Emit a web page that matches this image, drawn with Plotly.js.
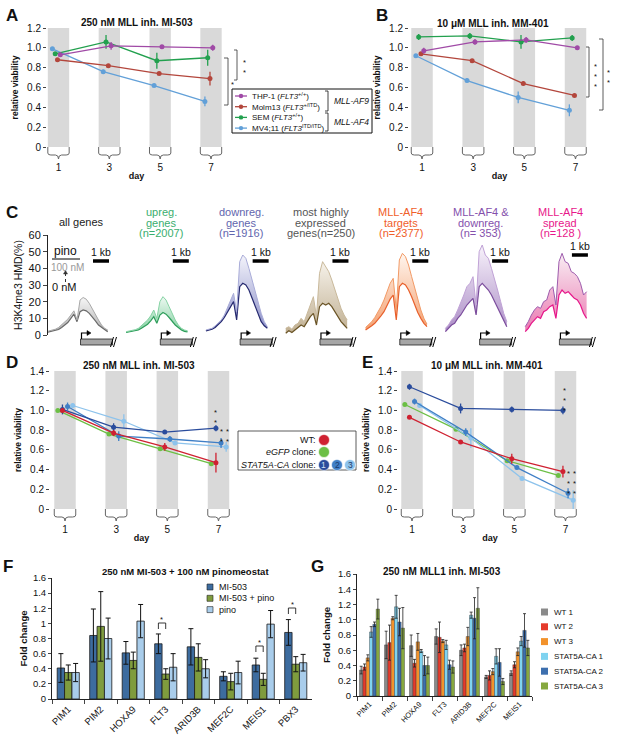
<!DOCTYPE html>
<html>
<head>
<meta charset="utf-8">
<script src="https://cdn.plot.ly/plotly-3.0.1.min.js"></script>
<style>
  body { margin: 0; background: #fff; }
  #fig { width: 617px; height: 752px; }
</style>
</head>
<body>
<div id="fig"></div>
<script>
// ---------- data ----------
let days = [1, 3, 5, 7];
let viab12 = [0, 0.2, 0.4, 0.6, 0.8, 1.0, 1.2];
let viab12Text = ['0', '0.2', '0.4', '0.6', '0.8', '1.0', '1.2'];
let viab14 = [0, 0.2, 0.4, 0.6, 0.8, 1.0, 1.2, 1.4];
let viab14Text = ['0', '0.2', '0.4', '0.6', '0.8', '1.0', '1.2', '1.4'];

// A + B: cell lines
let cellLines = ['THP-1', 'Molm13', 'SEM', 'MV4;11'];
let cellLegend = ['THP-1 (<i>FLT3</i><sup>+/+</sup>)', 'Molm13 (<i>FLT3</i><sup>+/ITD</sup>)',
                  'SEM (<i>FLT3</i><sup>+/+</sup>)', 'MV4;11 (<i>FLT3</i><sup>ITD/ITD</sup>)'];
let aMean = [[0.93, 1.02, 1.01, 1.00], [0.88, 0.82, 0.74, 0.69], [0.94, 1.06, 0.87, 0.90], [0.99, 0.76, 0.62, 0.46]];
let aErr  = [[0.02, 0.04, 0.01, 0.03], [0.01, 0.01, 0.01, 0.07], [0.01, 0.07, 0.08, 0.08], [0.01, 0.02, 0.01, 0.05]];
let bMean = [[0.97, 1.06, 1.08, 1.00], [0.94, 0.87, 0.64, 0.52], [1.11, 1.12, 1.06, 1.10], [0.92, 0.67, 0.50, 0.37]];
let bErr  = [[0.03, 0.03, 0.03, 0.01], [0.01, 0.01, 0.02, 0.01], [0.03, 0.03, 0.07, 0.03], [0.01, 0.02, 0.06, 0.06]];

// C: H3K4me3 profiles around the TSS
let kb = [-2, -1.8, -1.6, -1.4, -1.2, -1, -0.8, -0.6, -0.4, -0.2, 0, 0.2, 0.4, 0.6, 0.8, 1, 1.2, 1.4, 1.6, 1.8, 2];
let geneSets = ['all genes', 'upreg. genes', 'downreg. genes', 'most highly expressed genes',
                'MLL-AF4 targets', 'MLL-AF4 & downreg.', 'MLL-AF4 spread'];
let geneSetTitle = [['all genes'], ['upreg.', 'genes', '(n=2007)'], ['downreg.', 'genes', '(n=1916)'],
                    ['most highly', 'expressed', 'genes(n=250)'], ['MLL-AF4', 'targets', '(n=2377)'],
                    ['MLL-AF4 &amp;', 'downreg.', '(n= 353)'], ['MLL-AF4', 'spread', '(n=128 )']];
let hmdPino = [
  [2, 2.5, 3, 3.5, 4.5, 6, 7.5, 9.5, 12, 14.5, 9, 21, 22.5, 21.5, 19, 15.5, 12, 9, 6, 4, 3],
  [2, 2.3, 2.7, 3.2, 4, 5.5, 7, 9, 11.5, 15, 10, 20, 23, 21, 17, 12.5, 9, 6, 4, 3, 2.5],
  [3, 3.5, 4, 5.5, 7, 9, 12, 16, 21, 25, 14, 44, 48, 46, 40, 33, 26, 19, 13, 8, 5],
  [4, 5, 3.5, 6, 7, 10, 8, 13, 19, 23, 11, 37, 44, 41, 38, 33, 27, 21, 16, 12, 9],
  [4.5, 6, 8, 10.5, 13.5, 17, 21, 26, 31, 34, 15, 45, 49, 47, 42, 35, 28, 21, 15, 10, 6.5],
  [4, 6, 9, 11, 15, 19, 24, 29, 31, 35, 18, 50, 54, 48, 46, 40, 34, 27, 20, 13, 8],
  [5, 8, 12, 15, 17, 16, 20, 21, 27, 29, 18, 44, 49, 44, 43, 38, 37, 35, 31, 24, 26]
];
let hmdCtrl = [
  [1.5, 2, 2.2, 2.6, 3.3, 4.5, 6, 7.5, 10, 12.5, 8, 14, 15, 14.5, 13, 11, 8.5, 6, 4.5, 3, 2],
  [1.5, 1.8, 2, 2.5, 3, 4, 5, 6.5, 8.5, 11, 7, 12, 13.5, 12.5, 10.5, 8, 6, 4.5, 3, 2.2, 1.8],
  [2.5, 3, 3.5, 4.5, 6, 8, 10.5, 13.5, 17, 20, 9, 29, 31, 30, 27, 22, 17, 12, 8, 5.5, 4],
  [1, 2.5, 1.5, 3, 4, 6, 5, 8, 11, 13, 6, 17, 19, 18, 19, 17, 14, 11, 8, 6, 4],
  [3, 4, 5.5, 7, 9, 11.5, 14, 18, 21.5, 24, 9, 29, 31, 30, 27, 23, 18, 13.5, 10, 7, 5],
  [2, 4, 6, 7, 10, 12, 15, 18, 20, 22, 12, 29, 31, 29, 27, 24, 20, 16, 12, 8, 5],
  [2, 4, 7, 9, 11, 10, 14, 15, 17, 18, 10, 24, 27, 25, 26, 24, 22, 21, 18, 13, 10]
];

// D + E: clones
let clones = ['WT', 'eGFP clone', 'STAT5A-CA clone 1', 'STAT5A-CA clone 2', 'STAT5A-CA clone 3'];
let dMean = [[1.00, 0.77, 0.63, 0.47], [1.00, 0.76, 0.61, 0.46], [1.01, 0.83, 0.78, 0.82], [1.04, 0.74, 0.71, 0.67], [1.05, 0.89, 0.67, 0.63]];
let dErr  = [[0.02, 0.03, 0.04, 0.10], [0.01, 0.01, 0.01, 0.01], [0.05, 0.04, 0.02, 0.03], [0.04, 0.05, 0.03, 0.05], [0.02, 0.07, 0.02, 0.05]];
let eMean = [[0.93, 0.68, 0.51, 0.38], [1.06, 0.81, 0.49, 0.34], [1.24, 1.02, 1.01, 1.00], [1.09, 0.78, 0.42, 0.16], [1.05, 0.72, 0.31, 0.09]];
let eErr  = [[0.01, 0.01, 0.05, 0.06], [0.01, 0.01, 0.01, 0.01], [0.03, 0.05, 0.03, 0.04], [0.03, 0.04, 0.02, 0.05], [0.02, 0.10, 0.02, 0.10]];

// F: fold change, MI-503 +/- pinometostat
let fGenes = ['PIM1', 'PIM2', 'HOXA9', 'FLT3', 'ARID3B', 'MEF2C', 'MEIS1', 'PBX3'];
let fSeries = ['MI-503', 'MI-503 + pino', 'pino'];
let fMI = [0.41, 0.84, 0.61, 0.73, 0.69, 0.30, 0.45, 0.88];
let fMIerr = [0.19, 0.35, 0.15, 0.13, 0.24, 0.06, 0.09, 0.17];
let fCombo = [0.35, 0.96, 0.51, 0.33, 0.55, 0.23, 0.26, 0.46];
let fComboErr = [0.10, 0.46, 0.11, 0.07, 0.18, 0.11, 0.08, 0.10];
let fPino = [0.35, 0.80, 1.03, 0.42, 0.40, 0.35, 0.99, 0.48];
let fPinoErr = [0.12, 0.27, 0.22, 0.18, 0.12, 0.15, 0.18, 0.11];

// G: fold change per clone, MI-503
let gGenes = ['PIM1', 'PIM2', 'HOXA9', 'FLT3', 'ARID3B', 'MEF2C', 'MEIS1'];
let gSeries = ['WT 1', 'WT 2', 'WT 3', 'STAT5A-CA 1', 'STAT5A-CA 2', 'STAT5A-CA 3'];
let gMean = [
  [0.34, 0.67, 0.66, 0.78, 0.60, 0.25, 0.30],
  [0.38, 0.70, 0.43, 0.77, 0.63, 0.27, 0.41],
  [0.50, 1.02, 0.71, 0.72, 0.78, 0.32, 0.58],
  [0.84, 1.17, 0.59, 0.67, 1.06, 0.52, 0.72],
  [0.94, 0.97, 0.40, 0.41, 1.02, 0.44, 0.86],
  [1.14, 0.89, 0.40, 0.38, 1.15, 0.19, 0.63]
];
let gErr = [
  [0.05, 0.18, 0.14, 0.10, 0.07, 0.02, 0.03],
  [0.04, 0.23, 0.05, 0.20, 0.05, 0.06, 0.04],
  [0.04, 0.02, 0.11, 0.02, 0.12, 0.04, 0.05],
  [0.07, 0.15, 0.02, 0.06, 0.04, 0.10, 0.06],
  [0.03, 0.18, 0.13, 0.06, 0.27, 0.18, 0.22],
  [0.13, 0.27, 0.11, 0.08, 0.27, 0.04, 0.10]
];

// ---------- styling ----------
const W = 617, H = 752;
const px = v => v / W;          // pixel -> paper x
const py = v => 1 - v / H;      // pixel -> paper y
const FONT = 'Liberation Sans, Arial, sans-serif';
const BAND = 0.42;              // half width of grey day band

const cellColors = ['#a04aa6', '#b3463c', '#22a04e', '#62a0d8'];
const cellOffset = [0.07, -0.04, -0.13, -0.24];
const cloneColors = ['#cf2131', '#6cbf45', '#2a4c9c', '#3f7fc6', '#8dc3ec'];
const cloneOffset = [-0.1, -0.28, -0.1, 0.1, 0.3];
const cDark = ['#6a6a6a', '#2e9e5b', '#262a70', '#6a5426', '#e8602c', '#7b4c9c', '#e6178a'];
const cLight = ['#a8a8a8', '#86d3a4', '#a9acd8', '#c9b99b', '#f29a66', '#c0a2d6', '#9d5cad'];
const cFillLo = ['#b0b0b0', '#7fcf9e', '#8a8ec8', '#bfae90', '#f4a070', '#ab8cc6', '#ea78b0'];
const cFillHi = ['#f6f6f6', '#eef9f2', '#f4f4fb', '#f6f2ea', '#fff6ef', '#f8f3fb', '#f9eef4'];
const cTitle = ['#222', '#3aae6e', '#6266ae', '#555', '#f0602a', '#8450ac', '#e8178a'];
const fColors = ['#3d6c9f', '#7f9c3e', '#a9cdeb'];
const gColors = ['#8a8a8a', '#e53b2c', '#f2922b', '#7fd3f0', '#3d6fae', '#86a83f'];

const K = 15.35;                 // px per kb in panel C
const GAP = 5.2;                 // kb between profile centres
const tssPx = i => 77 + i * GAP * K;

const traces = [];
const shapes = [];
const ann = [];

function label(t, x, y, size, o) {
  o = o || {};
  ann.push({xref: 'paper', yref: 'paper', x: px(x), y: py(y), text: t, showarrow: false,
    xanchor: o.xanchor || 'center', yanchor: o.yanchor || 'middle',
    font: {family: FONT, size: size, color: o.color || '#111'}});
}
// a column of n significance stars, first one near y
function stars(x, y, n) {
  label(Array(n).fill('*').join('<br>'), x, y - 2, 7.5, {yanchor: 'top'});
}
function pline(path, color, width) {
  shapes.push({type: 'path', xref: 'paper', yref: 'paper', path: path, line: {color: color || '#222', width: width || 1}});
}
const P = (x, y) => px(x) + ',' + py(y);

// ---------- viability panels ----------
function viabTraces(means, errs, colors, offsets, names, xa, ya, order) {
  order.forEach(i => {
    traces.push({type: 'scatter', mode: 'lines+markers', name: names[i], xaxis: xa, yaxis: ya,
      x: days.map(d => d + offsets[i]), y: means[i],
      line: {color: colors[i], width: 1.3}, marker: {color: colors[i], size: 5},
      error_y: {type: 'data', array: errs[i], color: colors[i], thickness: 1.3, width: 0}});
  });
}
viabTraces(aMean, aErr, cellColors, cellOffset, cellLines, 'x', 'y', [3, 2, 1, 0]);
viabTraces(bMean, bErr, cellColors, cellOffset, cellLines, 'x2', 'y2', [3, 2, 1, 0]);
viabTraces(dMean, dErr, cloneColors, cloneOffset, clones, 'x4', 'y4', [1, 4, 3, 2, 0]);
viabTraces(eMean, eErr, cloneColors, cloneOffset, clones, 'x5', 'y5', [1, 4, 3, 2, 0]);

[['x', 'y', 1.2, 147], ['x2', 'y2', 1.2, 147], ['x4', 'y4', 1.4, 509], ['x5', 'y5', 1.4, 509]].forEach(([xa, ya, top, b]) => {
  days.forEach(d => {
    const l = d - BAND, r = d + BAND, e = 0.12;
    shapes.push({type: 'rect', xref: xa, yref: ya, x0: l, x1: r, y0: 0, y1: top,
      fillcolor: '#d9d9d9', line: {width: 0}, layer: 'below'});
    shapes.push({type: 'path', xref: xa, yref: 'paper', line: {color: '#666', width: 1},
      path: `M${l},${py(b)} L${l},${py(b + 6)} Q${l},${py(b + 8)} ${l + e},${py(b + 8)} L${d - e},${py(b + 8)} ` +
            `Q${d},${py(b + 8)} ${d},${py(b + 12)} Q${d},${py(b + 8)} ${d + e},${py(b + 8)} ` +
            `L${r - e},${py(b + 8)} Q${r},${py(b + 8)} ${r},${py(b + 6)} L${r},${py(b)}`});
  });
});

// ---------- C profiles ----------
geneSets.forEach((name, i) => {
  const xs = kb.map(k => k + i * GAP);
  traces.push({type: 'scatter', mode: 'lines', name: name + ' 0 nM', x: xs, y: hmdCtrl[i],
    xaxis: 'x3', yaxis: 'y3', line: {color: cDark[i], width: 1.2}});
  traces.push({type: 'scatter', mode: 'lines', name: name + ' 100 nM', x: xs, y: hmdPino[i],
    xaxis: 'x3', yaxis: 'y3', line: {color: cLight[i], width: 1}, fill: 'tonexty',
    fillgradient: {type: 'vertical', colorscale: [[0, cFillLo[i]], [1, cFillHi[i]]]}});

  const a = tssPx(i) + 4.5;
  const lines = geneSetTitle[i];
  lines.forEach((t, k) => label(t, a, lines.length === 1 ? 222 : 212 + k * 10.7, 11, {color: cTitle[i]}));
  // scale bar
  const sb = i === 6 ? 255 : 261;
  pline(`M${P(tssPx(i) + 16, sb)} L${P(tssPx(i) + 32, sb)}`, '#000', 3.5);
  label('1 kb', tssPx(i) + 24, sb - 9, 10.5);
  // gene model
  shapes.push({type: 'rect', xref: 'paper', yref: 'paper', x0: px(a - 1), x1: px(a + 31), y0: py(345), y1: py(339),
    fillcolor: '#a6a6a6', line: {color: '#222', width: 0.8}});
  pline(`M${P(a, 339)} L${P(a, 333)} L${P(a + 6, 333)}`, '#000', 1.2);
  shapes.push({type: 'path', xref: 'paper', yref: 'paper', fillcolor: '#000', line: {color: '#000', width: 0.5},
    path: `M${P(a + 5.5, 330.5)} L${P(a + 9.5, 333)} L${P(a + 5.5, 335.5)} Z`});
  pline(`M${P(a + 29, 347)} L${P(a + 32, 337)} M${P(a + 32, 347)} L${P(a + 35, 337)}`, '#000', 1);
});

// pino key in C
label('pino', 65, 251, 12);
pline(`M${P(52, 259)} L${P(80, 259)}`, '#000', 1);
label('100 nM', 67, 267, 10, {color: '#999'});
pline(`M${P(65.5, 282)} L${P(65.5, 274)}`, '#333', 1);
shapes[shapes.length - 1].line.dash = 'dot';
shapes.push({type: 'path', xref: 'paper', yref: 'paper', fillcolor: '#333', line: {color: '#333', width: 0.5},
  path: `M${P(63.5, 274)} L${P(65.5, 270.5)} L${P(67.5, 274)} Z`});
label('0 nM', 64, 287, 11);

// ---------- F + G bars ----------
[[fMI, fMIerr], [fCombo, fComboErr], [fPino, fPinoErr]].forEach(([v, e], k) => {
  traces.push({type: 'bar', name: fSeries[k], x: fGenes, y: v, xaxis: 'x6', yaxis: 'y6',
    width: 0.2267, offset: -0.34 + k * 0.2267,
    marker: {color: fColors[k], line: {color: '#1a1a1a', width: 0.8}},
    error_y: {type: 'data', array: e, color: '#111', thickness: 1, width: 2.5}});
});
gMean.forEach((v, k) => {
  traces.push({type: 'bar', name: gSeries[k], x: gGenes, y: v, xaxis: 'x7', yaxis: 'y7',
    width: 0.1333, offset: -0.4 + k * 0.1333,
    marker: {color: gColors[k], line: {color: '#333', width: 0.4}},
    error_y: {type: 'data', array: gErr[k], color: '#222', thickness: 0.8, width: 1.5}});
});

// ---------- legends, titles, significance ----------
// A legend
shapes.push({type: 'rect', xref: 'paper', yref: 'paper', x0: px(232), x1: px(372), y0: py(133), y1: py(89),
  line: {color: '#111', width: 1}, fillcolor: 'rgba(255,255,255,0)'});
cellLegend.forEach((t, i) => {
  const y = 96 + i * 10.7;
  pline(`M${P(235, y)} L${P(247, y)}`, cellColors[i], 1.3);
  shapes.push({type: 'circle', xref: 'paper', yref: 'paper', x0: px(238.8), x1: px(243.2), y0: py(y + 2.2), y1: py(y - 2.2),
    fillcolor: cellColors[i], line: {width: 0}});
  label(t, 250, y, 8, {xanchor: 'left'});
});
pline(`M${P(325, 91)} L${P(328, 91)} L${P(328, 111)} L${P(325, 111)} M${P(325, 113)} L${P(328, 113)} L${P(328, 131)} L${P(325, 131)}`, '#111', 0.8);
label('<i>MLL-AF9</i>', 332, 101, 8.5, {xanchor: 'left'});
label('<i>MLL-AF4</i>', 332, 122, 8.5, {xanchor: 'left'});

// D/E legend
shapes.push({type: 'rect', xref: 'paper', yref: 'paper', x0: px(238), x1: px(356), y0: py(470), y1: py(431),
  line: {color: '#333', width: 0.8}, fillcolor: 'rgba(255,255,255,0)'});
label('WT:', 318, 440, 9, {xanchor: 'right'});
label('<i>eGFP</i> clone:', 318, 452, 9, {xanchor: 'right'});
label('<i>STAT5A-CA</i> clone:', 318, 465, 9, {xanchor: 'right'});
[[324, 440, 0], [324, 452, 1], [324, 465, 2], [337, 465, 3], [350, 465, 4]].forEach(([x, y, c]) => {
  shapes.push({type: 'circle', xref: 'paper', yref: 'paper', x0: px(x - 5.5), x1: px(x + 5.5), y0: py(y + 5.5), y1: py(y - 5.5),
    fillcolor: cloneColors[c], line: {color: '#fff', width: 0.6}});
  if (c >= 2) label(String(c - 1), x, y, 8.5, {color: c === 2 ? '#cfe0f5' : '#1b3a6a'});
});

// F legend
fSeries.forEach((t, k) => {
  const y = 587 + k * 11.3;
  shapes.push({type: 'rect', xref: 'paper', yref: 'paper', x0: px(207), x1: px(213), y0: py(y + 3), y1: py(y - 3),
    fillcolor: fColors[k], line: {color: '#222', width: 0.6}});
  label(t, 217, y, 9, {xanchor: 'left'});
});
// G legend
gSeries.forEach((t, k) => {
  const y = 612 + k * 14.8;
  shapes.push({type: 'rect', xref: 'paper', yref: 'paper', x0: px(541), x1: px(548), y0: py(y + 3.5), y1: py(y - 3.5),
    fillcolor: gColors[k], line: {width: 0}});
  label(t, 552, y, 8, {xanchor: 'left'});
});

// panel letters and titles
[['A', 12, 15], ['B', 382, 15], ['C', 12, 212], ['D', 12, 362], ['E', 367, 362], ['F', 8, 566], ['G', 318, 566]]
  .forEach(([t, x, y]) => label('<b>' + t + '</b>', x, y, 17));
label('<b>250 nM MLL inh. MI-503</b>', 137, 22, 10);
label('<b>10 μM MLL inh. MM-401</b>', 493, 23, 10);
label('<b>250 nM MLL inh. MI-503</b>', 139, 365, 10);
label('<b>10 μM MLL inh. MM-401</b>', 487, 365, 10);
label('<b>250 nM MI-503 + 100 nM pinomeostat</b>', 185, 571, 9.5);
label('<b>250 nM MLL1 inh. MI-503</b>', 442, 571, 10);

// significance
pline(`M${P(234, 50)} L${P(237, 50)} L${P(237, 80)} L${P(234, 80)}`, '#333', 0.8); stars(244, 58, 2);
pline(`M${P(224, 58)} L${P(228, 58)} L${P(228, 105)} L${P(224, 105)}`, '#333', 0.8); stars(232, 80, 1);
pline(`M${P(586, 47)} L${P(589, 47)} L${P(589, 97)} L${P(586, 97)}`, '#333', 0.8); stars(595, 62, 3);
pline(`M${P(599, 39)} L${P(603, 39)} L${P(603, 110)} L${P(599, 110)}`, '#333', 0.8); stars(608, 68, 2);
stars(215, 408, 2); stars(221, 427, 2); stars(227, 427, 2);
stars(564, 386, 3); stars(568, 469, 3); stars(574, 469, 3);
pline(`M${P(158.4, 629)} L${P(158.4, 623)} L${P(165.7, 623)} L${P(165.7, 629)}`, '#222', 0.9); stars(162, 615, 1);
pline(`M${P(255.9, 652)} L${P(255.9, 646)} L${P(263.2, 646)} L${P(263.2, 652)}`, '#222', 0.9); stars(259.5, 638, 1);
pline(`M${P(288.4, 614)} L${P(288.4, 608)} L${P(295.7, 608)} L${P(295.7, 614)}`, '#222', 0.9); stars(292, 600, 1);

// ---------- axes ----------
function dayAxis(l, r, d1, d7, anchor) {
  const k = (d7 - d1) / 6;
  return {domain: [px(l), px(r)], range: [1 + (l - d1) / k, 1 + (r - d1) / k], anchor: anchor,
    tickvals: days, ticks: '', showgrid: false, zeroline: false, showline: false,
    ticklabelstandoff: 13, tickfont: {size: 10},
    title: {text: '<b>day</b>', font: {size: 9}, standoff: 0}};
}
function viabAxis(b, t, top, tv, tt, anchor) {
  return {domain: [py(b), py(t)], range: [0, top], anchor: anchor, tickvals: tv, ticktext: tt,
    ticks: 'outside', ticklen: 3, tickcolor: '#444', showgrid: false, zeroline: false, showline: false,
    tickfont: {size: 10}, title: {text: '<b>relative viability</b>', font: {size: 8.5}, standoff: 7}};
}
function foldAxis(b, t, anchor, tv, tt, standoff) {
  const ax = {domain: [py(b), py(t)], range: [0, 1.6], anchor: anchor, dtick: 0.2,
    ticks: 'outside', ticklen: 3, showline: true, linecolor: '#222', linewidth: 1,
    showgrid: false, zeroline: false, tickfont: {size: 9.5},
    title: {text: '<b>Fold change</b>', font: {size: 9.5}, standoff: standoff}};
  if (tv) { ax.tickvals = tv; ax.ticktext = tt; }
  return ax;
}
function geneAxis(l, r, anchor, size) {
  return {domain: [px(l), px(r)], anchor: anchor, type: 'category', tickson: 'boundaries',
    ticks: 'outside', ticklen: 4, showline: true, linecolor: '#222', linewidth: 1,
    tickangle: -45, tickfont: {size: size}, showgrid: false};
}

const layout = {
  width: W, height: H,
  margin: {l: 0, r: 0, t: 0, b: 0},
  paper_bgcolor: '#fff', plot_bgcolor: 'rgba(0,0,0,0)',
  font: {family: FONT, color: '#111'},
  showlegend: false, hovermode: false, barmode: 'overlay',
  xaxis: dayAxis(47, 226, 58.5, 211, 'y'),
  yaxis: viabAxis(147, 28, 1.2, viab12, viab12Text, 'x'),
  xaxis2: dayAxis(409, 590, 422, 575.5, 'y2'),
  yaxis2: viabAxis(147, 28, 1.2, viab12, viab12Text, 'x2'),
  xaxis3: {domain: [px(48), px(600)], range: [(48 - 77) / K, (600 - 77) / K], anchor: 'y3', visible: false},
  yaxis3: {domain: [py(335), py(235)], range: [0, 60], anchor: 'x3', dtick: 10, ticks: 'outside', ticklen: 4,
    showline: true, linecolor: '#222', linewidth: 1, showgrid: false, zeroline: false, tickfont: {size: 11},
    title: {text: 'H3K4me3 HMD(%)', font: {size: 10.5}, standoff: 3}},
  xaxis4: dayAxis(50, 233, 65, 218.5, 'y4'),
  yaxis4: viabAxis(509, 371, 1.4, viab14, viab14Text, 'x4'),
  xaxis5: dayAxis(398, 582, 412, 565.5, 'y5'),
  yaxis5: viabAxis(509, 371, 1.4, viab14, viab14Text, 'x5'),
  xaxis6: geneAxis(52, 312, 'y6', 9.5),
  yaxis6: foldAxis(699, 578, 'x6', null, null, 3),
  xaxis7: geneAxis(357, 532, 'y7', 7.5),
  yaxis7: foldAxis(696, 574, 'x7', [0, 0.2, 0.4, 0.6, 0.8, 1.0, 1.2, 1.4, 1.6],
    ['0', '0.2', '0.4', '0.6', '0.8', '1.0', '1.2', '1.4', '1.6'], 5),
  shapes: shapes,
  annotations: ann
};

Plotly.newPlot('fig', traces, layout, {staticPlot: true});
</script>
</body>
</html>
